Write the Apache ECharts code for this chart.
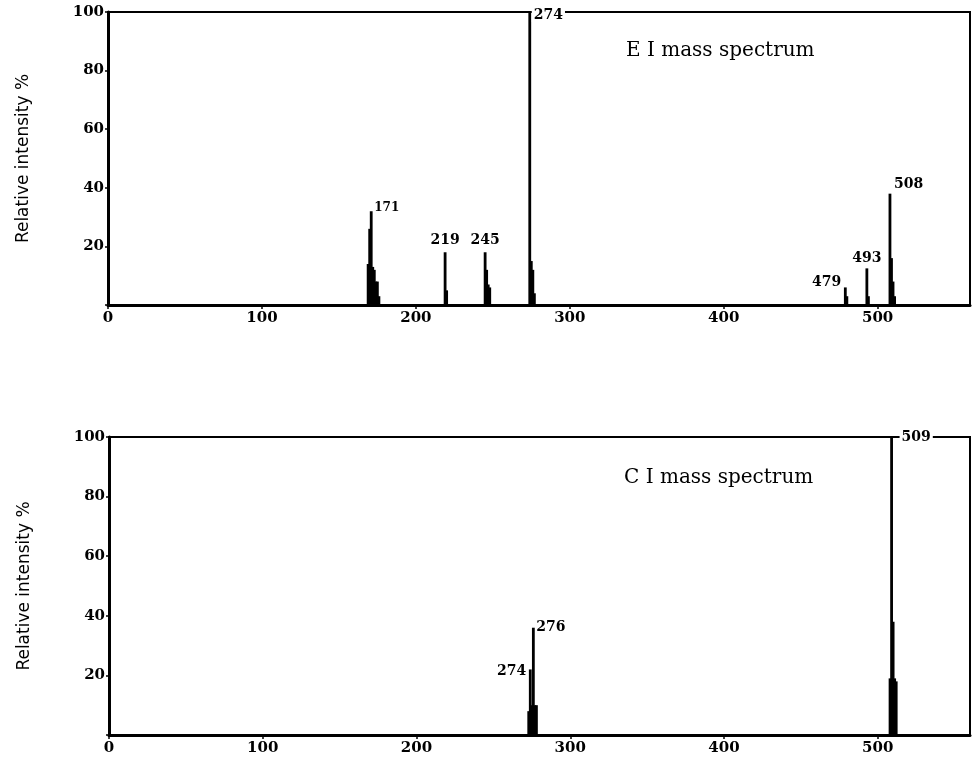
<!DOCTYPE html>
<html>
<head>
<meta charset="utf-8">
<script src="https://cdn.jsdelivr.net/npm/echarts@6/dist/echarts.min.js"></script>
<style>
  html, body { margin: 0; padding: 0; background: #fff; }
  #chart { width: 973px; height: 757px; }
</style>
</head>
<body>
<div id="chart"></div>
<script>
// EI spectrum: m/z and relative intensity
var eiMass = [169, 170, 171, 172, 173, 174, 175, 176, 219, 220, 245, 246, 247, 248, 274, 275, 276, 277, 479, 480, 493, 494, 508, 509, 510, 511];
var eiIntensity = [14, 26, 32, 13, 12, 8, 8, 3, 18, 5, 18, 12, 7, 6, 100, 15, 12, 4, 6, 3, 12.5, 3, 38, 16, 8, 3];
// CI spectrum
var ciMass = [273, 274, 275, 276, 277, 278, 508, 509, 510, 511, 512];
var ciIntensity = [8, 22, 10, 36, 10, 10, 19, 100, 38, 19, 18];
// peak annotations
var eiLabelMass = [171, 219, 245, 274, 479, 493, 508];
var ciLabelMass = [274, 276, 509];
var yTicks = [20, 40, 60, 80, 100];

var serif = 'DejaVu Serif';

function pairs(xs, ys) {
  return xs.map(function (x, i) { return [x, ys[i]]; });
}
function lookup(xs, ys, m) {
  return ys[xs.indexOf(m)];
}

// where each peak label goes relative to the top of its line
var labelPlace = {
  'ei171': { position: 'right', distance: 3, offset: [0, -3], fontSize: 12 },
  'ei219': { position: 'top', distance: 5 },
  'ei245': { position: 'top', distance: 5 },
  'ei274': { position: 'right', distance: 2, offset: [0, 3], backgroundColor: '#fff', padding: [0, 2] },
  'ei479': { position: 'left', distance: 4, offset: [0, -5] },
  'ei493': { position: 'top', distance: 3 },
  'ei508': { position: 'right', distance: 4, offset: [0, -9] },
  'ci274': { position: 'left', distance: 4, offset: [0, 2] },
  'ci276': { position: 'right', distance: 3, offset: [0, 0] },
  'ci509': { position: 'right', distance: 8, offset: [0, 0], backgroundColor: '#fff', padding: [0, 2] }
};

function labelData(prefix, xs, ys, marks) {
  return marks.map(function (m) {
    var p = labelPlace[prefix + m];
    return {
      value: [m, lookup(xs, ys, m)],
      label: Object.assign({
        show: true, formatter: String(m), color: '#000', opacity: 1,
        fontFamily: serif, fontWeight: 'bold', fontSize: 14
      }, p)
    };
  });
}

function renderPeak(params, api) {
  var base = api.coord([api.value(0), 0]);
  var top = api.coord([api.value(0), api.value(1)]);
  return {
    type: 'rect',
    shape: { x: base[0] - 1.4, y: top[1], width: 2.8, height: base[1] - top[1] },
    style: { fill: '#000' }
  };
}

function xAxisFor(gi) {
  return {
    gridIndex: gi, type: 'value', min: 0, max: 560, interval: 100,
    axisLine: { show: true, onZero: false, lineStyle: { color: '#000', width: 3 } },
    axisTick: { show: true, length: 4, lineStyle: { color: '#000', width: 1.5 } },
    axisLabel: { color: '#000', fontFamily: serif, fontWeight: 'bold', fontSize: 15, margin: 6, showMaxLabel: false },
    splitLine: { show: false }
  };
}
function yAxisFor(gi) {
  return {
    gridIndex: gi, type: 'value', min: 0, max: 100, interval: 20,
    name: 'Relative intensity %', nameLocation: 'middle', nameGap: 76, nameRotate: 90,
    nameTextStyle: { color: '#000', fontFamily: 'DejaVu Sans', fontSize: 17 },
    axisLine: { show: true, lineStyle: { color: '#000', width: 3 } },
    axisTick: { show: true, length: 3, lineStyle: { color: '#000', width: 1.5 } },
    axisLabel: {
      color: '#000', fontFamily: serif, fontWeight: 'bold', fontSize: 15, margin: 4,
      formatter: function (v) { return yTicks.indexOf(v) >= 0 ? String(v) : ''; }
    },
    splitLine: { show: false }
  };
}

var option = {
  backgroundColor: '#fff',
  animation: false,
  title: [
    { text: 'E I mass spectrum', left: 621, top: 36, textStyle: { fontFamily: serif, fontWeight: 'normal', fontSize: 20, color: '#000' } },
    { text: 'C I mass spectrum', left: 619, top: 463, textStyle: { fontFamily: serif, fontWeight: 'normal', fontSize: 20, color: '#000' } }
  ],
  grid: [
    { left: 108, top: 12, width: 862, height: 293, show: true, borderColor: '#000', borderWidth: 2, backgroundColor: 'transparent' },
    { left: 109, top: 437, width: 861, height: 298, show: true, borderColor: '#000', borderWidth: 2, backgroundColor: 'transparent' }
  ],
  xAxis: [xAxisFor(0), xAxisFor(1)],
  yAxis: [yAxisFor(0), yAxisFor(1)],
  series: [
    { type: 'custom', xAxisIndex: 0, yAxisIndex: 0, renderItem: renderPeak, data: pairs(eiMass, eiIntensity), clip: false },
    { type: 'custom', xAxisIndex: 1, yAxisIndex: 1, renderItem: renderPeak, data: pairs(ciMass, ciIntensity), clip: false },
    { type: 'scatter', xAxisIndex: 0, yAxisIndex: 0, symbolSize: 0, z: 5, itemStyle: { opacity: 1 }, data: labelData('ei', eiMass, eiIntensity, eiLabelMass) },
    { type: 'scatter', xAxisIndex: 1, yAxisIndex: 1, symbolSize: 0, z: 5, itemStyle: { opacity: 1 }, data: labelData('ci', ciMass, ciIntensity, ciLabelMass) }
  ]
};

var chart = echarts.init(document.getElementById('chart'));
chart.setOption(option);
</script>
</body>
</html>
